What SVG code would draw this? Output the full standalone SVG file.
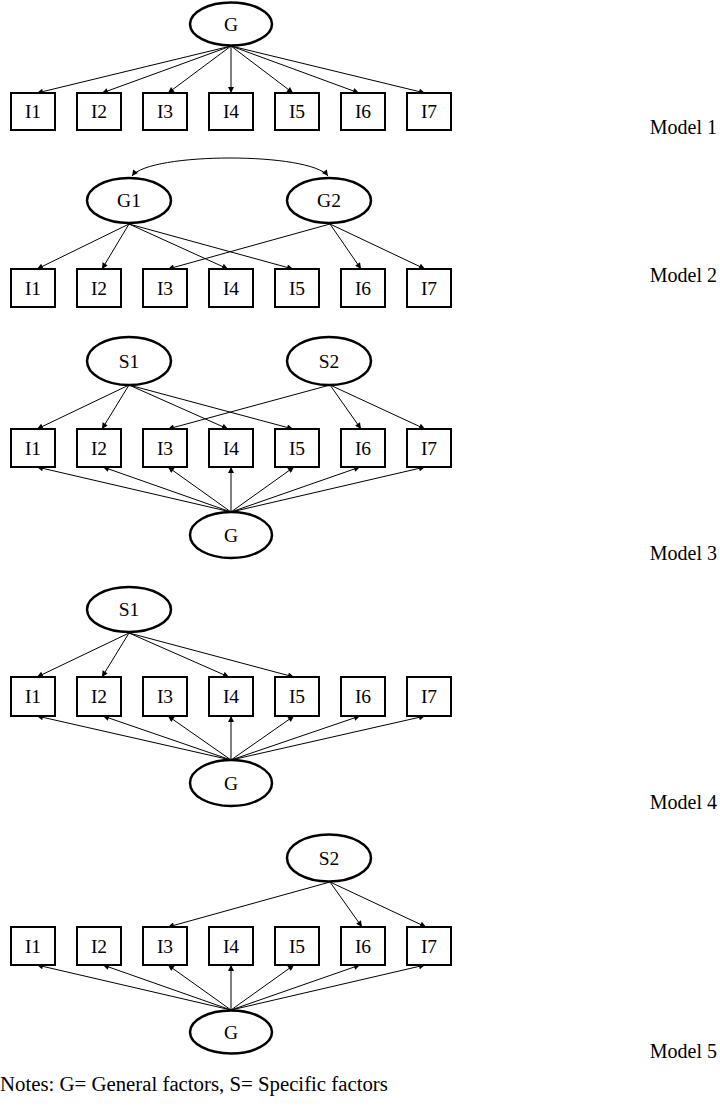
<svg xmlns="http://www.w3.org/2000/svg" width="720" height="1108" viewBox="0 0 720 1108">
<style>
.box{fill:#fff;stroke:#000;stroke-width:2}
.lat{fill:#fff;stroke:#000;stroke-width:2.5}
.t{font-family:"Liberation Serif","Times New Roman",serif;font-size:19.5px;fill:#000;text-anchor:middle}
.lbl{font-family:"Liberation Serif","Times New Roman",serif;font-size:20px;fill:#000;text-anchor:end}
.note{font-family:"Liberation Serif","Times New Roman",serif;font-size:20.8px;fill:#000}
.e{fill:none;stroke:#000;stroke-width:1;marker-end:url(#ah)}
</style>
<defs>
<marker id="ah" viewBox="0 0 10 10" refX="10" refY="5" markerUnits="userSpaceOnUse" markerWidth="7" markerHeight="6" orient="auto-start-reverse">
<path d="M0,0 L10,5 L0,10 z" fill="#000"/>
</marker>
</defs>

<!-- connectors -->
<g id="connectors">
<!-- Model 1 -->
<line class="e" x1="231" y1="46" x2="37" y2="93"/>
<line class="e" x1="231" y1="46" x2="102" y2="93"/>
<line class="e" x1="231" y1="46" x2="168" y2="93"/>
<line class="e" x1="231" y1="46" x2="231" y2="93"/>
<line class="e" x1="231" y1="46" x2="293" y2="93"/>
<line class="e" x1="231" y1="46" x2="359" y2="93"/>
<line class="e" x1="231" y1="46" x2="425" y2="93"/>
<!-- Model 2 -->
<path class="e" d="M132,176 C150,152 310,152 328,176" style="marker-start:url(#ah)"/>
<line class="e" x1="129" y1="224" x2="37" y2="269"/>
<line class="e" x1="129" y1="224" x2="102" y2="269"/>
<line class="e" x1="129" y1="224" x2="228" y2="269"/>
<line class="e" x1="129" y1="224" x2="293" y2="269"/>
<line class="e" x1="330" y1="224" x2="168" y2="269"/>
<line class="e" x1="330" y1="224" x2="361" y2="269"/>
<line class="e" x1="330" y1="224" x2="425" y2="269"/>
<!-- Model 3 -->
<line class="e" x1="129" y1="385" x2="37" y2="429"/>
<line class="e" x1="129" y1="385" x2="102" y2="429"/>
<line class="e" x1="129" y1="385" x2="228" y2="429"/>
<line class="e" x1="129" y1="385" x2="293" y2="429"/>
<line class="e" x1="330" y1="385" x2="168" y2="429"/>
<line class="e" x1="330" y1="385" x2="361" y2="429"/>
<line class="e" x1="330" y1="385" x2="425" y2="429"/>
<line class="e" x1="231" y1="512" x2="37" y2="467"/>
<line class="e" x1="231" y1="512" x2="103" y2="467"/>
<line class="e" x1="231" y1="512" x2="168" y2="467"/>
<line class="e" x1="231" y1="512" x2="231" y2="467"/>
<line class="e" x1="231" y1="512" x2="294" y2="467"/>
<line class="e" x1="231" y1="512" x2="360" y2="467"/>
<line class="e" x1="231" y1="512" x2="425" y2="467"/>
<!-- Model 4 -->
<line class="e" x1="129" y1="633" x2="37" y2="677"/>
<line class="e" x1="129" y1="633" x2="102" y2="677"/>
<line class="e" x1="129" y1="633" x2="229" y2="677"/>
<line class="e" x1="129" y1="633" x2="294" y2="677"/>
<line class="e" x1="231" y1="760" x2="37" y2="716"/>
<line class="e" x1="231" y1="760" x2="103" y2="716"/>
<line class="e" x1="231" y1="760" x2="168" y2="716"/>
<line class="e" x1="231" y1="760" x2="231" y2="716"/>
<line class="e" x1="231" y1="760" x2="294" y2="716"/>
<line class="e" x1="231" y1="760" x2="360" y2="716"/>
<line class="e" x1="231" y1="760" x2="425" y2="716"/>
<!-- Model 5 -->
<line class="e" x1="330" y1="882" x2="168" y2="927"/>
<line class="e" x1="330" y1="882" x2="362" y2="927"/>
<line class="e" x1="330" y1="882" x2="426" y2="927"/>
<line class="e" x1="231" y1="1010" x2="37" y2="965"/>
<line class="e" x1="231" y1="1010" x2="103" y2="965"/>
<line class="e" x1="231" y1="1010" x2="168" y2="965"/>
<line class="e" x1="231" y1="1010" x2="231" y2="965"/>
<line class="e" x1="231" y1="1010" x2="294" y2="965"/>
<line class="e" x1="231" y1="1010" x2="360" y2="965"/>
<line class="e" x1="231" y1="1010" x2="425" y2="965"/>
</g>

<!-- Model 1 -->
<g id="m1-G"><ellipse class="lat" cx="231" cy="24" rx="41" ry="21.5"/><text class="t" x="231" y="30.5">G</text></g>
<g id="m1-I1"><rect class="box" x="11" y="93" width="44" height="37"/><text class="t" x="33" y="118">I1</text></g>
<g id="m1-I2"><rect class="box" x="77" y="93" width="44" height="37"/><text class="t" x="99" y="118">I2</text></g>
<g id="m1-I3"><rect class="box" x="143" y="93" width="44" height="37"/><text class="t" x="165" y="118">I3</text></g>
<g id="m1-I4"><rect class="box" x="209" y="93" width="44" height="37"/><text class="t" x="231" y="118">I4</text></g>
<g id="m1-I5"><rect class="box" x="275" y="93" width="44" height="37"/><text class="t" x="297" y="118">I5</text></g>
<g id="m1-I6"><rect class="box" x="341" y="93" width="44" height="37"/><text class="t" x="363" y="118">I6</text></g>
<g id="m1-I7"><rect class="box" x="407" y="93" width="44" height="37"/><text class="t" x="429" y="118">I7</text></g>
<text class="lbl" x="717" y="134">Model 1</text>

<!-- Model 2 -->
<g id="m2-G1"><ellipse class="lat" cx="129" cy="200.5" rx="42" ry="22.5"/><text class="t" x="129" y="207">G1</text></g>
<g id="m2-G2"><ellipse class="lat" cx="329" cy="200.5" rx="42" ry="22.5"/><text class="t" x="329" y="207">G2</text></g>
<g id="m2-I1"><rect class="box" x="11" y="269" width="44" height="38"/><text class="t" x="33" y="294.5">I1</text></g>
<g id="m2-I2"><rect class="box" x="77" y="269" width="44" height="38"/><text class="t" x="99" y="294.5">I2</text></g>
<g id="m2-I3"><rect class="box" x="143" y="269" width="44" height="38"/><text class="t" x="165" y="294.5">I3</text></g>
<g id="m2-I4"><rect class="box" x="209" y="269" width="44" height="38"/><text class="t" x="231" y="294.5">I4</text></g>
<g id="m2-I5"><rect class="box" x="275" y="269" width="44" height="38"/><text class="t" x="297" y="294.5">I5</text></g>
<g id="m2-I6"><rect class="box" x="341" y="269" width="44" height="38"/><text class="t" x="363" y="294.5">I6</text></g>
<g id="m2-I7"><rect class="box" x="407" y="269" width="44" height="38"/><text class="t" x="429" y="294.5">I7</text></g>
<text class="lbl" x="717" y="282">Model 2</text>

<!-- Model 3 -->
<g id="m3-S1"><ellipse class="lat" cx="129" cy="361" rx="42" ry="24"/><text class="t" x="129" y="367.5">S1</text></g>
<g id="m3-S2"><ellipse class="lat" cx="329" cy="361" rx="42" ry="24"/><text class="t" x="329" y="367.5">S2</text></g>
<g id="m3-I1"><rect class="box" x="11" y="429" width="44" height="38"/><text class="t" x="33" y="454.5">I1</text></g>
<g id="m3-I2"><rect class="box" x="77" y="429" width="44" height="38"/><text class="t" x="99" y="454.5">I2</text></g>
<g id="m3-I3"><rect class="box" x="143" y="429" width="44" height="38"/><text class="t" x="165" y="454.5">I3</text></g>
<g id="m3-I4"><rect class="box" x="209" y="429" width="44" height="38"/><text class="t" x="231" y="454.5">I4</text></g>
<g id="m3-I5"><rect class="box" x="275" y="429" width="44" height="38"/><text class="t" x="297" y="454.5">I5</text></g>
<g id="m3-I6"><rect class="box" x="341" y="429" width="44" height="38"/><text class="t" x="363" y="454.5">I6</text></g>
<g id="m3-I7"><rect class="box" x="407" y="429" width="44" height="38"/><text class="t" x="429" y="454.5">I7</text></g>
<g id="m3-G"><ellipse class="lat" cx="231" cy="535" rx="41" ry="23"/><text class="t" x="231" y="541.5">G</text></g>
<text class="lbl" x="717" y="560">Model 3</text>

<!-- Model 4 -->
<g id="m4-S1"><ellipse class="lat" cx="129" cy="609.5" rx="42" ry="22.5"/><text class="t" x="129" y="616">S1</text></g>
<g id="m4-I1"><rect class="box" x="11" y="677" width="44" height="39"/><text class="t" x="33" y="703">I1</text></g>
<g id="m4-I2"><rect class="box" x="77" y="677" width="44" height="39"/><text class="t" x="99" y="703">I2</text></g>
<g id="m4-I3"><rect class="box" x="143" y="677" width="44" height="39"/><text class="t" x="165" y="703">I3</text></g>
<g id="m4-I4"><rect class="box" x="209" y="677" width="44" height="39"/><text class="t" x="231" y="703">I4</text></g>
<g id="m4-I5"><rect class="box" x="275" y="677" width="44" height="39"/><text class="t" x="297" y="703">I5</text></g>
<g id="m4-I6"><rect class="box" x="341" y="677" width="44" height="39"/><text class="t" x="363" y="703">I6</text></g>
<g id="m4-I7"><rect class="box" x="407" y="677" width="44" height="39"/><text class="t" x="429" y="703">I7</text></g>
<g id="m4-G"><ellipse class="lat" cx="231" cy="783" rx="41" ry="23"/><text class="t" x="231" y="789.5">G</text></g>
<text class="lbl" x="717" y="809">Model 4</text>

<!-- Model 5 -->
<g id="m5-S2"><ellipse class="lat" cx="329" cy="858" rx="42" ry="23.5"/><text class="t" x="329" y="864.5">S2</text></g>
<g id="m5-I1"><rect class="box" x="11" y="927" width="44" height="38"/><text class="t" x="33" y="952.5">I1</text></g>
<g id="m5-I2"><rect class="box" x="77" y="927" width="44" height="38"/><text class="t" x="99" y="952.5">I2</text></g>
<g id="m5-I3"><rect class="box" x="143" y="927" width="44" height="38"/><text class="t" x="165" y="952.5">I3</text></g>
<g id="m5-I4"><rect class="box" x="209" y="927" width="44" height="38"/><text class="t" x="231" y="952.5">I4</text></g>
<g id="m5-I5"><rect class="box" x="275" y="927" width="44" height="38"/><text class="t" x="297" y="952.5">I5</text></g>
<g id="m5-I6"><rect class="box" x="341" y="927" width="44" height="38"/><text class="t" x="363" y="952.5">I6</text></g>
<g id="m5-I7"><rect class="box" x="407" y="927" width="44" height="38"/><text class="t" x="429" y="952.5">I7</text></g>
<g id="m5-G"><ellipse class="lat" cx="231" cy="1032" rx="41" ry="21.5"/><text class="t" x="231" y="1038.5">G</text></g>
<text class="lbl" x="717" y="1058">Model 5</text>

<text class="note" x="0" y="1091">Notes: G= General factors, S= Specific factors</text>
</svg>
